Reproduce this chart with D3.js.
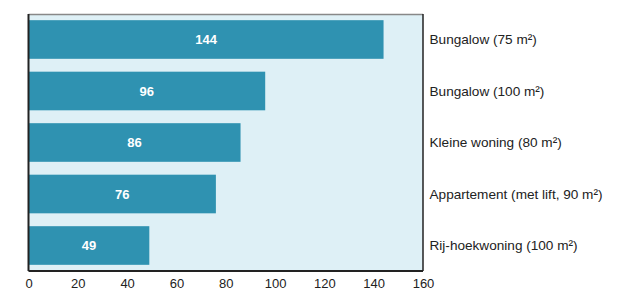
<!DOCTYPE html>
<html>
<head>
<meta charset="utf-8">
<script src="https://cdn.jsdelivr.net/npm/d3@7"></script>
<style>
  body { margin: 0; background: #fff; }
  svg { display: block; font-family: "Liberation Sans", Arial, sans-serif; }
</style>
</head>
<body>
<div id="chart"></div>
<script>
// data
var categories = ["Bungalow (75 m²)", "Bungalow (100 m²)", "Kleine woning (80 m²)",
                  "Appartement (met lift, 90 m²)", "Rij-hoekwoning (100 m²)"];
var values = [144, 96, 86, 76, 49];
var xTicks = [0, 20, 40, 60, 80, 100, 120, 140, 160];

var w = 620,
    h = 292;

var margin = { top: 14, right: 197, bottom: 21, left: 28.5 };
var iw = w - margin.left - margin.right,
    ih = h - margin.top - margin.bottom;

var svg = d3.select("#chart").append("svg")
    .attr("width", w)
    .attr("height", h);

var g = svg.append("g")
    .attr("transform", "translate(" + margin.left + "," + margin.top + ")");

var x = d3.scaleLinear().domain([0, 160]).range([0, iw]);
var y = d3.scaleBand().domain(categories).range([0, ih])
    .paddingInner(0.25).paddingOuter(0.12);

// plot background
g.append("rect")
    .attr("width", iw)
    .attr("height", ih)
    .attr("fill", "#def0f6");

// bars
g.selectAll(".bar")
    .data(values)
    .enter()
    .append("rect")
    .attr("x", 0)
    .attr("y", function(d, i) { return y(categories[i]); })
    .attr("width", function(d) { return x(d); })
    .attr("height", y.bandwidth())
    .attr("fill", "#2f92b1");

// value labels
g.selectAll(".val")
    .data(values)
    .enter()
    .append("text")
    .attr("x", function(d) { return x(d) / 2; })
    .attr("y", function(d, i) { return y(categories[i]) + y.bandwidth() / 2; })
    .attr("dy", "0.35em")
    .attr("text-anchor", "middle")
    .attr("fill", "#fff")
    .style("font-size", "13px")
    .style("font-weight", "bold")
    .text(function(d) { return d; });

// frame
g.append("line").attr("x1", 0).attr("x2", iw).attr("y1", 0.5).attr("y2", 0.5)
    .attr("stroke", "#888").attr("stroke-width", 1.5);
g.append("line").attr("x1", 0).attr("x2", 0).attr("y1", 0).attr("y2", ih)
    .attr("stroke", "#222").attr("stroke-width", 2);
g.append("line").attr("x1", iw).attr("x2", iw).attr("y1", 0).attr("y2", ih)
    .attr("stroke", "#222").attr("stroke-width", 1.5);
g.append("line").attr("x1", 0).attr("x2", iw).attr("y1", ih).attr("y2", ih)
    .attr("stroke", "#222").attr("stroke-width", 2);

// x axis (labels only)
var xAxis = g.append("g")
    .attr("transform", "translate(0," + ih + ")")
    .call(d3.axisBottom(x).tickValues(xTicks).tickSize(0).tickPadding(8));
xAxis.select(".domain").remove();
xAxis.selectAll("text")
    .attr("fill", "#222")
    .style("font-size", "13px")
    .style("font-family", "'Liberation Sans', Arial, sans-serif");

// category labels on the right
g.selectAll(".cat")
    .data(categories)
    .enter()
    .append("text")
    .attr("x", iw + 6.5)
    .attr("y", function(d) { return y(d) + y.bandwidth() / 2; })
    .attr("dy", "0.35em")
    .attr("fill", "#222")
    .style("font-size", "13.6px")
    .text(function(d) { return d; });
</script>
</body>
</html>
